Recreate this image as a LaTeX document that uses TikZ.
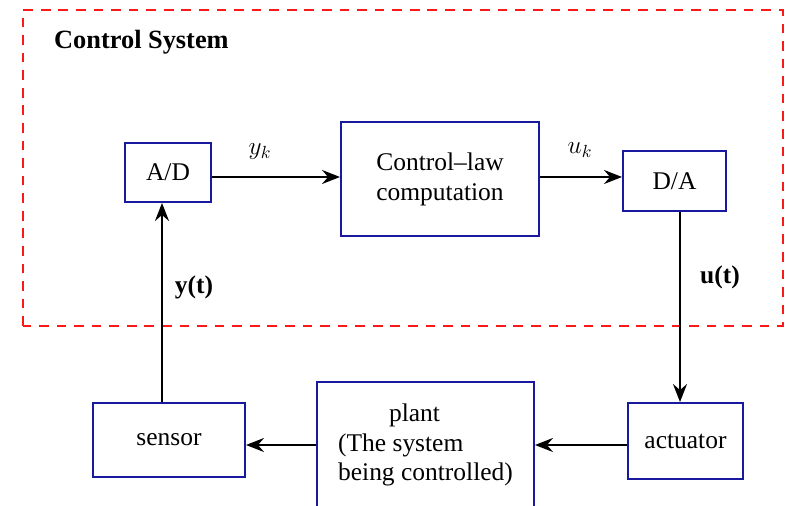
\documentclass[tikz,border=0pt]{standalone}
\usepackage{fontspec}
\setmainfont{Liberation Serif}
\definecolor{csBlue}{RGB}{25,25,160}
\definecolor{csRed}{RGB}{250,25,25}
\usetikzlibrary{arrows.meta,positioning}

\begin{document}
\begin{tikzpicture}[
    blk/.style={rectangle, draw=csBlue, line width=1.1pt, align=center, inner sep=0pt,
                font=\fontsize{14.5}{17}\selectfont},
    sig/.style={draw, line width=1.2pt, -{Stealth[length=3.6mm, width=2.8mm, inset=1.2mm]}},
    lbl/.style={font=\fontsize{14.5}{17}\selectfont}
  ]
  \useasboundingbox (0,0) rectangle (15.7,10.1);
  \draw[csRed, line width=1.1pt, dash pattern=on 5.5pt off 4.5pt] (0.46,3.58) rectangle (15.66,9.9);
  \node[lbl, anchor=west, font=\fontsize{15}{17}\selectfont\bfseries] (title) at (0.96,9.26) {Control System};

  \node[blk, minimum width=17.2mm, minimum height=11.8mm] (ad) at (3.36,6.65) {A/D};
  \node[blk, minimum width=39.6mm, minimum height=22.8mm] (law) at (8.80,6.52) {Control--law\\computation};
  \node[blk, minimum width=20.6mm, minimum height=12mm] (da) at (13.49,6.48) {D/A};
  \node[blk, minimum width=30.4mm, minimum height=14.8mm] (sensor) at (3.38,1.30) {sensor};
  \node[blk, minimum width=43.4mm, minimum height=25.2mm, align=left] (plant) at (8.51,1.20)
    {\hspace{2em}plant\\(The system\\being controlled)};
  \node[blk, minimum width=23mm, minimum height=15.2mm] (act) at (13.71,1.28) {actuator};

  \draw[sig] ([yshift=-0.9mm]ad.east) -- ([yshift=-0.9mm]ad.east -| law.west);
  \draw[sig] ([yshift=0.4mm]law.east) -- ([yshift=0.4mm]law.east -| da.west);
  \draw[sig] ([xshift=1.1mm]da.south) -- ([xshift=1.1mm]da.south |- act.north);
  \draw[sig] ([yshift=-0.8mm]act.west) -- ([yshift=-0.8mm]act.west -| plant.east);
  \draw[sig] (plant.west) -- (plant.west -| sensor.east);
  \draw[sig] ([xshift=-1.4mm]sensor.north) -- ([xshift=-1.4mm]sensor.north |- ad.south);

  \node[lbl] (yk) at (5.2,7.06) {$y_k$};
  \node[lbl] (uk) at (11.6,7.10) {$u_k$};
  \node[lbl, font=\fontsize{14.5}{17}\selectfont\bfseries] (yt) at (3.88,4.36) {y(t)};
  \node[lbl, font=\fontsize{14.5}{17}\selectfont\bfseries] (ut) at (14.4,4.56) {u(t)};
\end{tikzpicture}
\end{document}
